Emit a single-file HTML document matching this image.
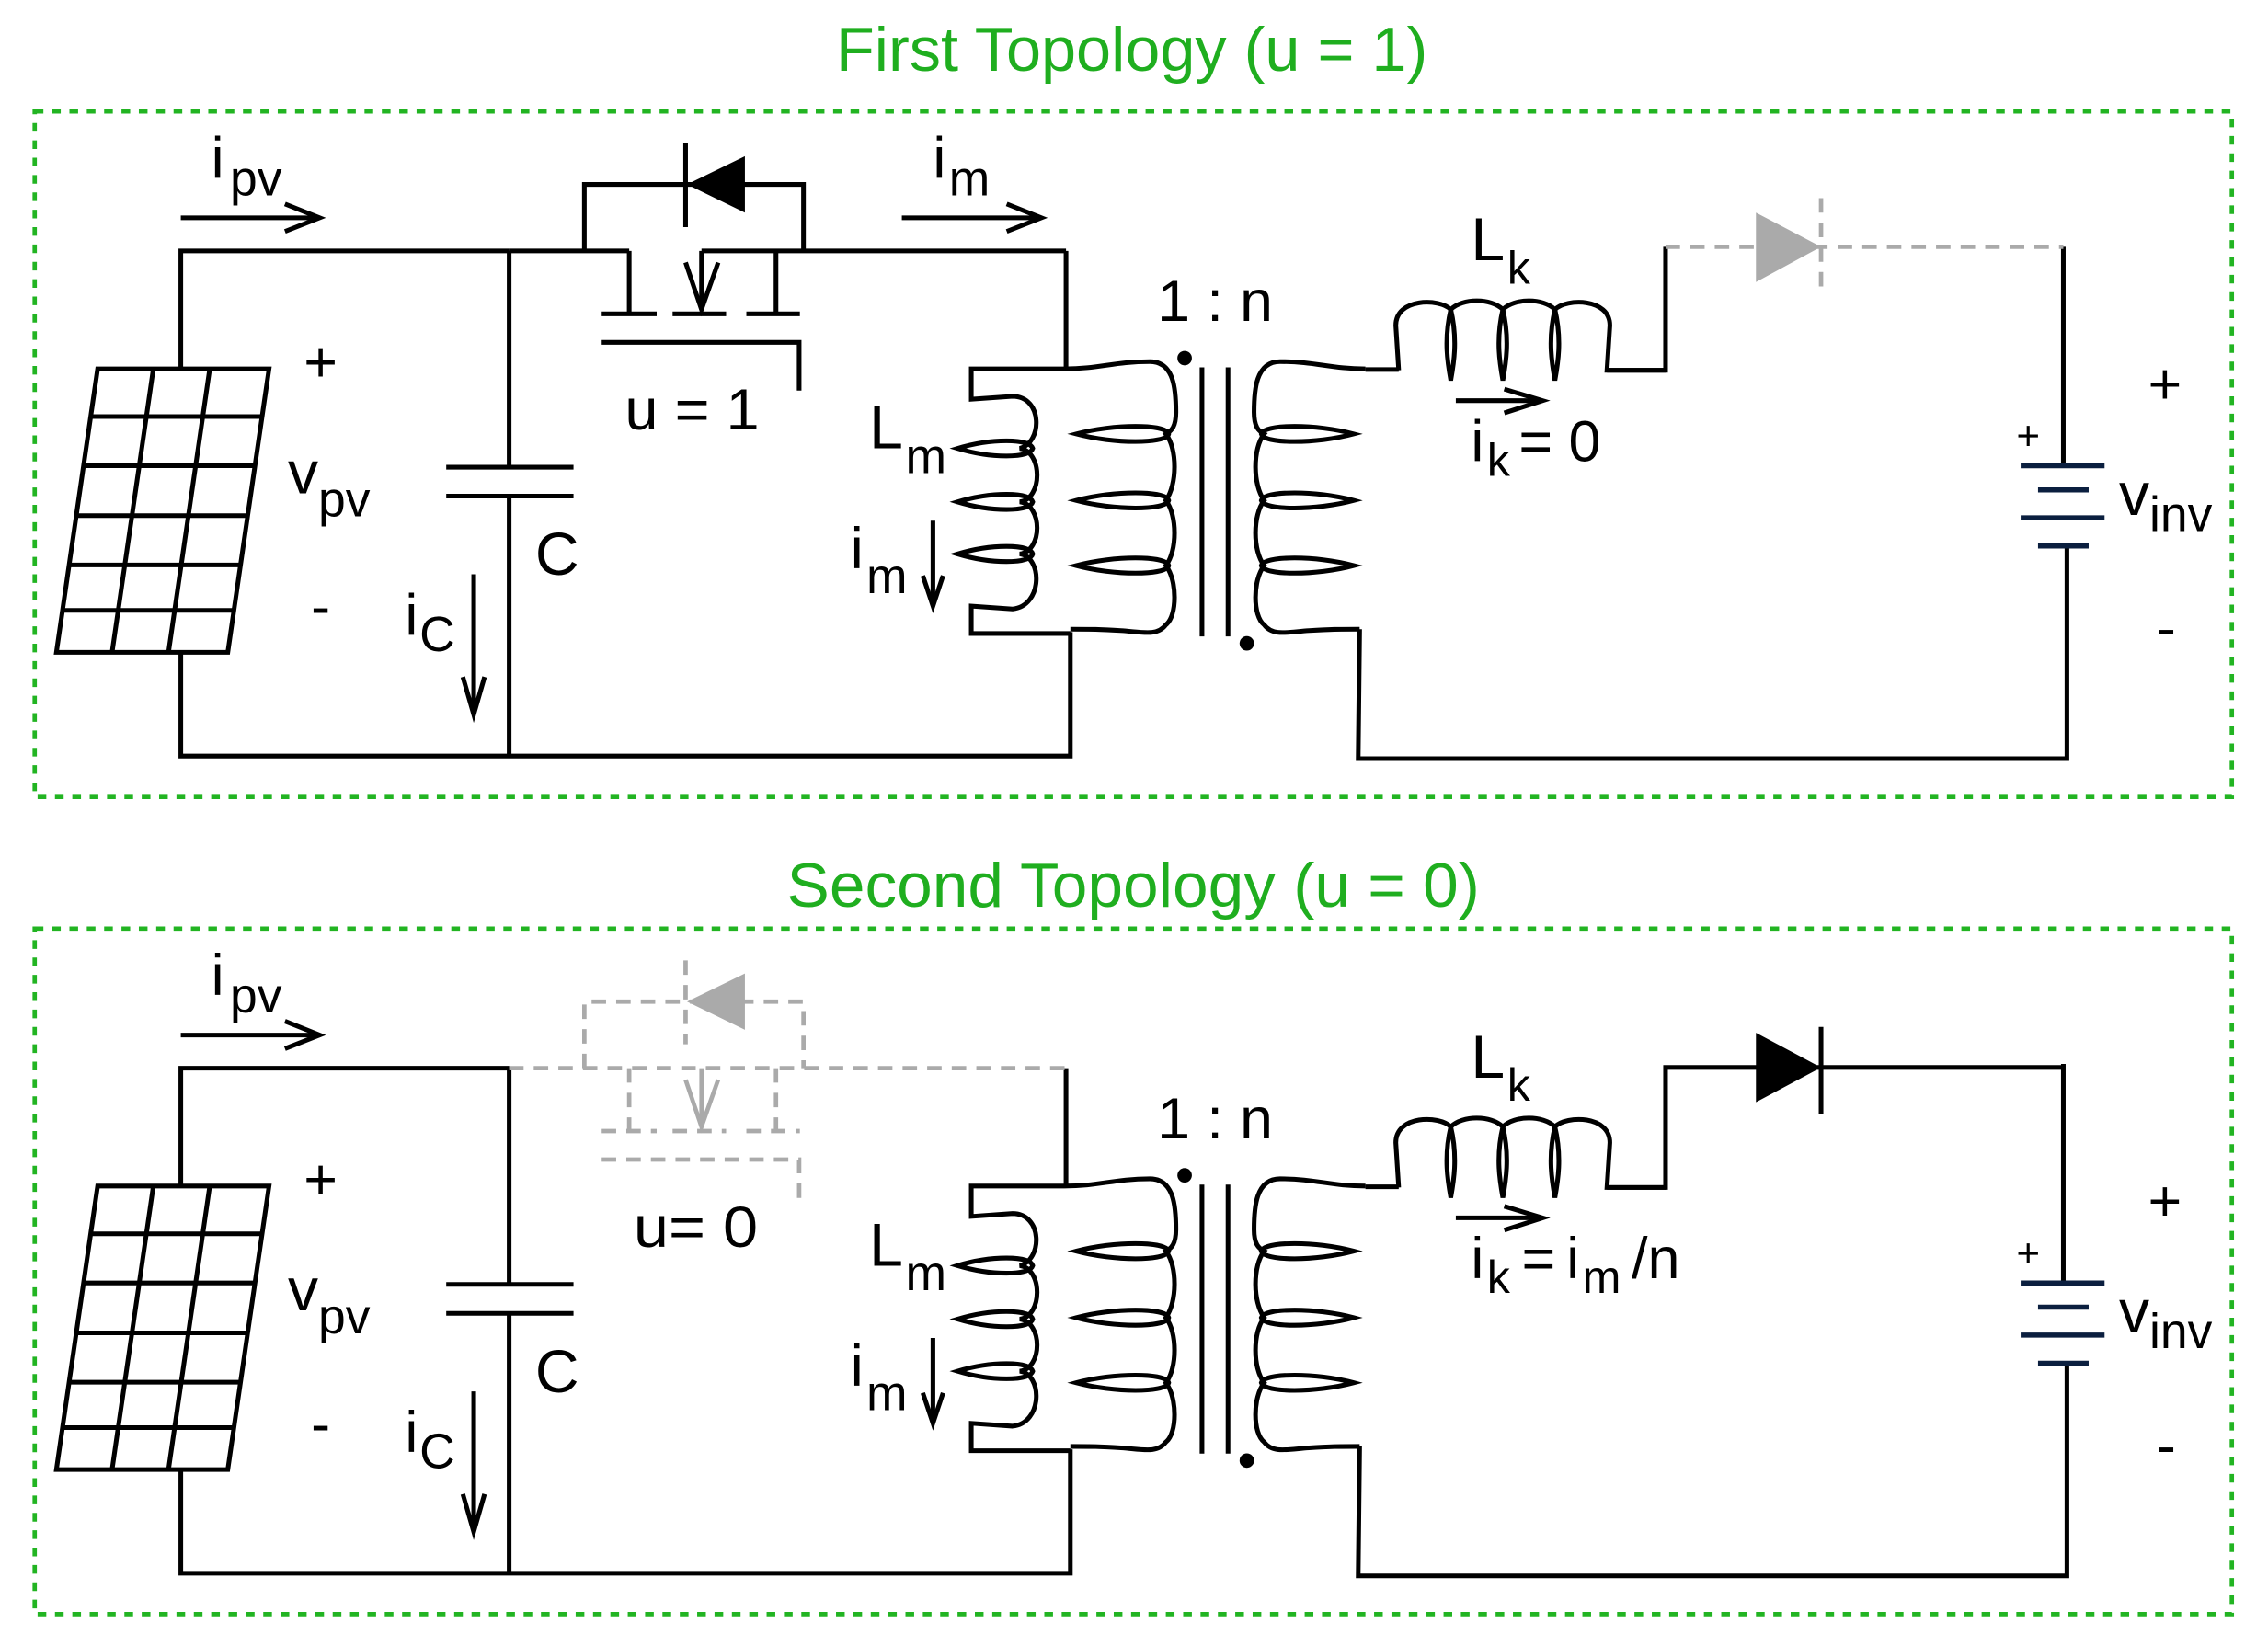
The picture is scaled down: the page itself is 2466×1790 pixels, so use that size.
<!DOCTYPE html>
<html><head><meta charset="utf-8"><style>
html,body{margin:0;padding:0;background:#fff}
svg{display:block}
text{font-family:"Liberation Sans",sans-serif;fill:#000}
</style></head><body>
<svg width="2466" height="1790" viewBox="0 0 1568 1138" preserveAspectRatio="none" xmlns="http://www.w3.org/2000/svg">
<defs>
<g id="common" fill="none" stroke="#000" stroke-width="3.2">
  <polyline points="125,255 125,173.5 352,173.5"/>
  <polyline points="125,451 125,522.7 740,522.7 740,437"/>
  <line x1="352" y1="173.5" x2="352" y2="323"/>
  <line x1="352" y1="343" x2="352" y2="522.7"/>
  <line x1="308.5" y1="323" x2="396.5" y2="323"/>
  <line x1="308.5" y1="343" x2="396.5" y2="343"/>
  <polygon points="67.5,255 186,255 157.5,451 39,451"/>
  <line x1="106" y1="255" x2="77.5" y2="451"/>
  <line x1="145" y1="255" x2="116.5" y2="451"/>
  <line x1="62.7" y1="288" x2="181.2" y2="288"/>
  <line x1="57.8" y1="322" x2="176.3" y2="322"/>
  <line x1="52.8" y1="356.5" x2="171.3" y2="356.5"/>
  <line x1="47.8" y1="390.6" x2="166.3" y2="390.6"/>
  <line x1="43.2" y1="422" x2="161.7" y2="422"/>
  <line x1="125" y1="150.6" x2="221" y2="150.6"/>
  <polyline points="197,141 221,150.6 197,160"/>
  <line x1="327.5" y1="397" x2="327.5" y2="492"/>
  <polyline points="320,468 327.5,494 335,468"/>
  <line x1="645" y1="360" x2="645" y2="417"/>
  <polyline points="638,398 645,419 652,398"/>
  <line x1="737" y1="173.5" x2="737" y2="255"/>
  <path d="M736,255 H671.5 V276 L700,274 C721,274 721,306 705,310 C721,312 721,345 705,347 C721,349 721,381 705,383 C721,385 721,419 700,421 L671.5,419 V438 H740"/>
  <path d="M662,310 C685,303 712,303 714,310 C712,317 685,317 662,310 Z"/>
  <path d="M662,347 C685,340 712,340 714,347 C712,354 685,354 662,347 Z"/>
  <path d="M662,383 C685,376 712,376 714,383 C712,390 685,390 662,383 Z"/>
  <path d="M736,255 C760,255 770,250 795,250 C812,250 813,270 813,285 C813,295 810,298 806,300 C814,310 814,335 806,346 C814,356 814,381 806,391 C814,401 814,426 806,432 C800,440 790,437 775,436 C760,435 755,435 740,435"/>
  <path d="M744,300 C770,293 806,293 808,300 C806,307 770,307 744,300 Z"/>
  <path d="M744,346 C770,339 806,339 808,346 C806,353 770,353 744,346 Z"/>
  <path d="M744,391 C770,384 806,384 808,391 C806,398 770,398 744,391 Z"/>
  <g transform="translate(1680,0) scale(-1,1)">
    <path d="M736,255 C760,255 770,250 795,250 C812,250 813,270 813,285 C813,295 810,298 806,300 C814,310 814,335 806,346 C814,356 814,381 806,391 C814,401 814,426 806,432 C800,440 790,437 775,436 C760,435 755,435 740,435"/>
    <path d="M744,300 C770,293 806,293 808,300 C806,307 770,307 744,300 Z"/>
    <path d="M744,346 C770,339 806,339 808,346 C806,353 770,353 744,346 Z"/>
    <path d="M744,391 C770,384 806,384 808,391 C806,398 770,398 744,391 Z"/>
  </g>
  <line x1="944" y1="255.5" x2="967" y2="255.5"/>
  <line x1="831" y1="254" x2="831" y2="440"/>
  <line x1="849" y1="254" x2="849" y2="440"/>
  <polyline points="940,435 939,524.5 1429,524.5 1429,377.5"/>
  <path d="M967,256 L965,225 C965,206 995,206 1003,214 C1011,206 1031,206 1039,214 C1047,206 1067,206 1075,214 C1083,206 1113,206 1113,225 L1111,256 H1151.5"/>
  <path d="M1003,214 C998,235 1001,252 1003,263 C1005,252 1008,235 1003,214 Z"/>
  <path d="M1039,214 C1034,235 1037,252 1039,263 C1041,252 1044,235 1039,214 Z"/>
  <path d="M1075,214 C1070,235 1073,252 1075,263 C1077,252 1080,235 1075,214 Z"/>
  <line x1="1006.5" y1="277" x2="1065" y2="277"/>
  <polyline points="1040,269 1066.5,277 1040,285.5"/>
  <line x1="1426.5" y1="170.6" x2="1426.5" y2="322"/>
</g>
<g id="battery" stroke="#0b1f3f" stroke-width="3.5">
  <line x1="1397" y1="322" x2="1455" y2="322"/>
  <line x1="1409" y1="338.7" x2="1444" y2="338.7"/>
  <line x1="1397" y1="358" x2="1455" y2="358"/>
  <line x1="1409" y1="377.5" x2="1444" y2="377.5"/>
</g>
<g id="labels">
  <circle cx="819" cy="247.6" r="5" fill="#000"/>
  <circle cx="862" cy="444.8" r="5" fill="#000"/>
  <text x="146" y="123" font-size="40">i</text><text x="159" y="135" font-size="34">pv</text>
  <text x="210" y="264" font-size="40">+</text>
  <text x="215" y="433" font-size="40">-</text>
  <text x="199" y="341" font-size="42">v</text><text x="220" y="357" font-size="34">pv</text>
  <text x="370" y="397.5" font-size="42">C</text>
  <text x="280" y="439" font-size="40">i</text><text x="290" y="450" font-size="34">C</text>
  <text x="601" y="310" font-size="42">L</text><text x="626" y="327" font-size="34">m</text>
  <text x="588" y="393" font-size="40">i</text><text x="599" y="410" font-size="34">m</text>
  <text x="800" y="222" font-size="40" textLength="80" lengthAdjust="spacingAndGlyphs">1 : n</text>
  <text x="1017" y="180" font-size="42">L</text><text x="1042" y="196" font-size="32">k</text>
  <text x="1394" y="311" font-size="28">+</text>
  <text x="1485" y="279" font-size="40">+</text>
  <text x="1491" y="448" font-size="40">-</text>
  <text x="1465" y="356" font-size="42">v</text><text x="1486" y="367" font-size="34">inv</text>
</g>
</defs>

<text x="578" y="49" font-size="43" style="fill:#1fae1f" textLength="409" lengthAdjust="spacingAndGlyphs">First Topology (u = 1)</text>
<rect x="24" y="77" width="1519" height="474" fill="none" stroke="#22b422" stroke-width="3" stroke-dasharray="6,6"/>
<use href="#common"/>
<use href="#battery"/>
<use href="#labels"/>
<text x="645" y="123" font-size="40">i</text><text x="656" y="135" font-size="34">m</text>
<g fill="none" stroke="#000" stroke-width="3.2">
  <line x1="623.5" y1="150.6" x2="720" y2="150.6"/>
  <polyline points="696,141 720,150.6 696,160"/>
  <line x1="352" y1="173.5" x2="435" y2="173.5"/>
  <line x1="485" y1="173.5" x2="737" y2="173.5"/>
  <polyline points="404,173.5 404,127.5 555.5,127.5 555.5,173.5"/>
  <line x1="474" y1="99" x2="474" y2="157"/>
  <line x1="435" y1="173.5" x2="435" y2="217"/>
  <line x1="536.5" y1="173.5" x2="536.5" y2="217"/>
  <line x1="416" y1="217" x2="454" y2="217"/>
  <line x1="465" y1="217" x2="502" y2="217"/>
  <line x1="516" y1="217" x2="553" y2="217"/>
  <line x1="485" y1="173.5" x2="485" y2="214"/>
  <polyline points="474,181.5 485,214 496.5,181.5"/>
  <polyline points="416,236.7 552.5,236.7 552.5,270"/>
  <polyline points="1111,256 1151.5,256 1151.5,170.6"/>
</g>
<polygon points="475,127.5 515,108 515,147" fill="#000"/>
<g fill="none" stroke="#aaa" stroke-width="3" stroke-dasharray="10,7">
  <line x1="1151.5" y1="170.6" x2="1426.5" y2="170.6"/>
  <line x1="1259" y1="137" x2="1259" y2="205"/>
</g>
<polygon points="1214,147 1214,195 1259,170.6" fill="#aaa"/>
<text x="432" y="297" font-size="40" textLength="93" lengthAdjust="spacingAndGlyphs">u = 1</text>
<text x="1017" y="318.7" font-size="40">i</text><text x="1028" y="329" font-size="32">k</text>
<text x="1050" y="318.7" font-size="40">= 0</text>

<text x="544" y="627" font-size="43" style="fill:#1fae1f" textLength="479" lengthAdjust="spacingAndGlyphs">Second Topology (u = 0)</text>
<g transform="translate(0,565)">
<rect x="24" y="77" width="1519" height="474" fill="none" stroke="#22b422" stroke-width="3" stroke-dasharray="6,6"/>
<use href="#common"/>
<use href="#battery"/>
<use href="#labels"/>
<g fill="none" stroke="#aaa" stroke-width="3" stroke-dasharray="10,7">
  <line x1="352" y1="173.5" x2="737" y2="173.5"/>
  <polyline points="404,173.5 404,127.5 555.5,127.5 555.5,173.5"/>
  <line x1="474" y1="99" x2="474" y2="157"/>
  <line x1="435" y1="173.5" x2="435" y2="217"/>
  <line x1="536.5" y1="173.5" x2="536.5" y2="217"/>
  <line x1="416" y1="217" x2="454" y2="217"/>
  <line x1="465" y1="217" x2="502" y2="217"/>
  <line x1="516" y1="217" x2="553" y2="217"/>
  <polyline points="416,236.7 552.5,236.7 552.5,270"/>
</g>
<g fill="none" stroke="#aaa" stroke-width="3">
  <line x1="485" y1="173.5" x2="485" y2="214"/>
  <polyline points="474,181.5 485,214 496.5,181.5"/>
</g>
<polygon points="475,127.5 515,108 515,147" fill="#aaa"/>
<g fill="none" stroke="#000" stroke-width="3.2">
  <polyline points="1111,256 1151.5,256 1151.5,173 1426.5,173"/>
  <line x1="1259" y1="145" x2="1259" y2="205"/>
</g>
<polygon points="1214,149 1214,197 1259,173" fill="#000"/>
<text x="438" y="297" font-size="40" textLength="86" lengthAdjust="spacingAndGlyphs">u= 0</text>
<text x="1017" y="318.7" font-size="40">i</text><text x="1028" y="329" font-size="32">k</text>
<text x="1052" y="318.7" font-size="40">=</text>
<text x="1083" y="318.7" font-size="40">i</text><text x="1094" y="329" font-size="32">m</text>
<text x="1128" y="318.7" font-size="40">/n</text>
</g>
</svg>
</body></html>
